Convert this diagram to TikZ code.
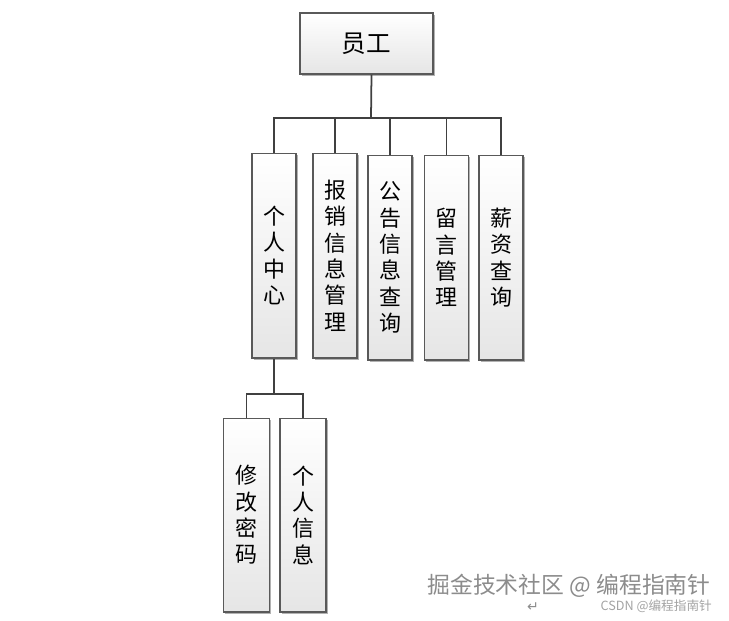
\documentclass[tikz,border=0pt]{standalone}
\usepackage{fontspec}
\newfontfamily\cjk{Noto Sans CJK SC}
\newfontfamily\symfont{DejaVu Sans}
\usepackage{tikz}
\usetikzlibrary{shadows, calc}
\usepackage{xcolor}
\definecolor{boxedge}{rgb}{0.35, 0.35, 0.35}
\definecolor{boxbottom}{rgb}{0.9, 0.9, 0.9}
\definecolor{treeline}{rgb}{0.25, 0.25, 0.25}
\definecolor{markgray}{rgb}{0.55, 0.55, 0.55}

\begin{document}
\begin{tikzpicture}[x=0.02cm, y=-0.02cm,
			orgbox/.style={draw=boxedge, line width=0.6pt, top color=white, bottom color=boxbottom, align=center, inner sep=0pt,
				drop shadow={shadow xshift=1.1pt, shadow yshift=-1.1pt, fill=black!30, opacity=1},
				font=\cjk\fontsize{12.5}{15}\selectfont},
			vbox/.style={orgbox, minimum width=0.88cm, minimum height=4.1cm},
			lowbox/.style={orgbox, minimum width=0.92cm, minimum height=3.88cm},
			linkstyle/.style={draw=treeline, line width=1pt}
		]
		\useasboundingbox (0,0) rectangle (729,620);
		\node[orgbox, minimum width=2.66cm, minimum height=1.22cm, font=\cjk\fontsize{14}{16}\selectfont] (staff) at (366.5,43.5) {员工};
		\node[vbox] (center) at (274,255.5) {个\\人\\中\\心};
		\node[vbox] (claim) at (335,255.5) {报\\销\\信\\息\\管\\理};
		\node[vbox] (notice) at (390,257.5) {公\\告\\信\\息\\查\\询};
		\node[vbox] (message) at (446.5,257.5) {留\\言\\管\\理};
		\node[vbox] (salary) at (501,257.5) {薪\\资\\查\\询};
		\node[lowbox] (passwd) at (246.5,515) {修\\改\\密\\码};
		\node[lowbox] (profile) at (303,515) {个\\人\\信\\息};
		\coordinate (bus) at (371,118);
		\coordinate (subbus) at (274,394);
		% tree lines
		\draw[linkstyle] ([xshift=0.1cm]staff.south) -- (bus);
		\foreach \child in {center, claim, notice, message, salary}
			\draw[linkstyle] (bus) -| (\child.north);
		\draw[linkstyle] (center.south) -- (subbus);
		\foreach \child in {passwd, profile}
			\draw[linkstyle] (subbus) -| (\child.north);
		% watermark
		\node[text=markgray, font=\cjk\fontsize{13}{15}\selectfont] (mark) at (569,586) {掘金技术社区 @ 编程指南针};
		\node[text=markgray!80, font=\cjk\fontsize{7.2}{8}\selectfont, anchor=east] (csdn) at (718,606) {CSDN @编程指南针};
		\node[text=markgray, font=\symfont\fontsize{8}{9}\selectfont] (ret) at (533,607) {↵};
	\end{tikzpicture}
\end{document}
